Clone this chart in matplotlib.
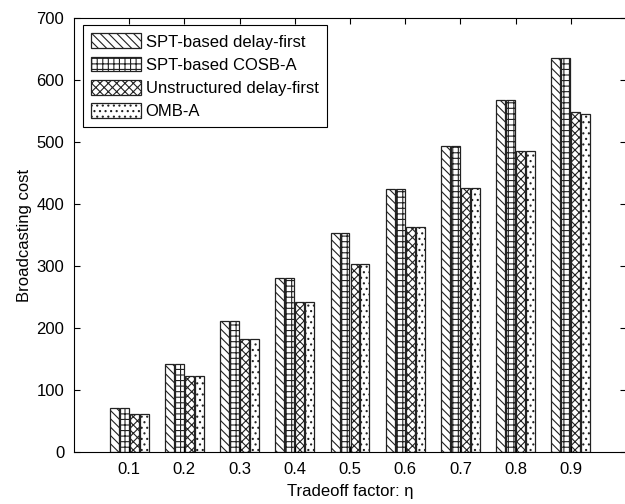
import matplotlib.pyplot as plt
import numpy as np

plt.rcParams['font.family'] = ['Liberation Sans', 'DejaVu Sans']
plt.rcParams['hatch.linewidth'] = 0.8

eta = [0.1, 0.2, 0.3, 0.4, 0.5, 0.6, 0.7, 0.8, 0.9]
spt_delay = [71, 142, 212, 281, 353, 424, 494, 567, 636]
spt_cosb = [71, 142, 212, 281, 353, 424, 494, 567, 636]
unstructured = [61, 122, 183, 242, 304, 363, 426, 486, 548]
omb = [61, 122, 183, 242, 304, 363, 426, 486, 545]

series = [spt_delay, spt_cosb, unstructured, omb]
labels = ['SPT-based delay-first', 'SPT-based COSB-A',
          'Unstructured delay-first', 'OMB-A']
hatches = ['\\\\\\\\', '+++', 'xxxx', '...']

fig = plt.figure(figsize=(6.25, 5.04), dpi=100)
ax = fig.add_axes([74 / 625, 52 / 504, (626 - 74) / 625, (452 - 18) / 504])

x = np.array(eta)
w = 0.016
pitch = 0.018
for i, (vals, lab, h) in enumerate(zip(series, labels, hatches)):
    ax.bar(x + (i - 1.5) * pitch, vals, width=w, color='white',
           edgecolor='#222222', linewidth=0.9, hatch=h, label=lab)

ax.set_xlim(0, 1.0)
ax.set_ylim(0, 700)
ax.set_xticks(eta)
ax.set_xticklabels([str(v) for v in eta])
ax.set_yticks(range(0, 701, 100))
ax.tick_params(direction='in', top=True, right=True, labelsize=12,
               length=4, pad=7)
ax.set_xlabel(u'Tradeoff factor: \u03b7', fontsize=12, labelpad=5)
ax.set_ylabel('Broadcasting cost', fontsize=12, labelpad=3)

leg = ax.legend(loc='upper left', bbox_to_anchor=(83 / 625, 1 - 25 / 504),
                bbox_transform=fig.transFigure, borderaxespad=0,
                fontsize=12, fancybox=False, edgecolor='black',
                framealpha=1, handlelength=3.0, handleheight=1.0,
                labelspacing=0.42, handletextpad=0.25, borderpad=0.5)
leg.get_frame().set_linewidth(0.8)

fig.savefig('out.png', dpi=100)
